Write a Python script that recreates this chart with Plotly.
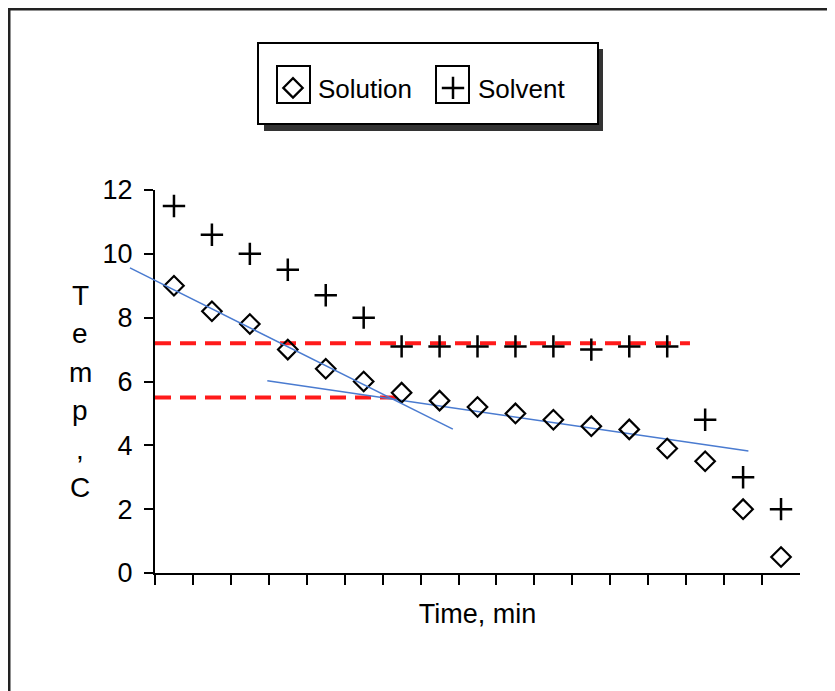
import plotly.graph_objects as go

# data
time = list(range(1, 18))
solution = [9.0, 8.2, 7.8, 7.0, 6.4, 6.0, 5.65, 5.4, 5.2, 5.0, 4.8, 4.6, 4.5, 3.9, 3.5, 2.0, 0.5]
solvent = [11.5, 10.6, 10.0, 9.5, 8.7, 8.0, 7.1, 7.1, 7.1, 7.1, 7.1, 7.0, 7.1, 7.1, 4.8, 3.0, 2.0]

# hand drawn guide lines
fit1_x = [-0.16, 8.35]
fit1_y = [9.56, 4.51]
fit2_x = [3.46, 16.14]
fit2_y = [6.02, 3.82]
red1_x = [0.5, 14.6]
red1_y = [7.2, 7.2]
red2_x = [0.5, 7.05]
red2_y = [5.5, 5.5]

# page puts the figure 8px in from the top left
S = 8
W, H = 835, 691
ML, MT = 100 - S, 190 - S
MR = W - (800 - S)
MB = H - (573 - S)
PW = W - ML - MR
PH = H - MT - MB


def X(px):
    return (px - S - ML) / PW


def Y(py):
    return (H - MB - (py - S)) / PH


FONT = "Liberation Sans, Arial, sans-serif"
RED = "#ff1a1a"
BLUE = "#4a7bd0"

fig = go.Figure()

fig.add_trace(go.Scatter(x=red1_x, y=red1_y, mode="lines", showlegend=False,
                         line=dict(color=RED, width=4, dash="16px,9px")))
fig.add_trace(go.Scatter(x=red2_x, y=red2_y, mode="lines", showlegend=False,
                         line=dict(color=RED, width=4, dash="16px,9px")))
fig.add_trace(go.Scatter(x=fit1_x, y=fit1_y, mode="lines", showlegend=False,
                         xaxis="x2", line=dict(color=BLUE, width=1.5)))
fig.add_trace(go.Scatter(x=fit2_x, y=fit2_y, mode="lines", showlegend=False,
                         line=dict(color=BLUE, width=1.5)))

fig.add_trace(go.Scatter(x=time, y=solution, mode="markers", name="Solution",
                         marker=dict(symbol="diamond-open", size=15, color="black",
                                     line=dict(width=2.2, color="black"))))
fig.add_trace(go.Scatter(x=time, y=solvent, mode="markers", name="Solvent",
                         marker=dict(symbol="cross-thin-open", size=16, color="black",
                                     line=dict(width=2.5, color="black"))))

axis_px = 155
ppu = (800 - axis_px) / 17.0
x2_left = 0.5 - (axis_px - S - ML) / ppu

shapes = [
    # outer frame
    dict(type="rect", xref="paper", yref="paper", x0=X(9), x1=X(870), y0=Y(730), y1=Y(9),
         line=dict(color="#222", width=3), layer="below"),
    # legend shadow and box
    dict(type="rect", xref="paper", yref="paper", x0=X(264), x1=X(603), y0=Y(131), y1=Y(49),
         fillcolor="#333", line=dict(width=0), layer="below"),
    dict(type="rect", xref="paper", yref="paper", x0=X(258), x1=X(598), y0=Y(124), y1=Y(43),
         fillcolor="white", line=dict(color="black", width=2), layer="below"),
    # little frames round the legend symbols
    dict(type="rect", xref="paper", yref="paper", x0=X(277), x1=X(310), y0=Y(103), y1=Y(66),
         line=dict(color="black", width=2), layer="below"),
    dict(type="rect", xref="paper", yref="paper", x0=X(436), x1=X(469), y0=Y(103), y1=Y(66),
         line=dict(color="black", width=2), layer="below"),
]

letters = ["T", "e", "m", "p", ",", "C"]
annotations = []
for i, ch in enumerate(letters):
    annotations.append(dict(text=ch, xref="paper", yref="paper", x=X(80), y=Y(295 + 38.5 * i),
                            showarrow=False, xanchor="center", yanchor="middle",
                            font=dict(family=FONT, size=28, color="black")))

fig.update_layout(
    width=W, height=H,
    margin=dict(l=ML, r=MR, t=MT, b=MB),
    paper_bgcolor="white",
    plot_bgcolor="rgba(0,0,0,0)",
    showlegend=True,
    legend=dict(orientation="h", x=X(268), y=Y(88), xanchor="left", yanchor="middle",
                bgcolor="rgba(0,0,0,0)", borderwidth=0, entrywidth=105, itemwidth=40,
                font=dict(family="Liberation Sans Narrow, Liberation Sans, Arial", size=26, color="black")),
    shapes=shapes,
    annotations=annotations,
    xaxis=dict(range=[0.5, 17.5], domain=[(axis_px - S - ML) / PW, 1],
               tickmode="array", tickvals=[t - 0.5 for t in time], showticklabels=False,
               ticks="outside", ticklen=10, tickwidth=2, tickcolor="black",
               showline=True, linewidth=2, linecolor="black", showgrid=False, zeroline=False,
               title=dict(text="Time, min", standoff=20,
                          font=dict(family=FONT, size=27, color="black"))),
    xaxis2=dict(range=[x2_left, 17.5], domain=[0, 1], anchor="y", visible=False),
    yaxis=dict(range=[0, 12], tickmode="array", tickvals=[0, 2, 4, 6, 8, 10, 12],
               ticks="outside", ticklen=9, tickwidth=2, tickcolor="black", ticklabelstandoff=6,
               showline=True, linewidth=2, linecolor="black", showgrid=False, zeroline=False,
               tickfont=dict(family=FONT, size=27, color="black"), anchor="x"),
)

fig.write_html("out.html")
